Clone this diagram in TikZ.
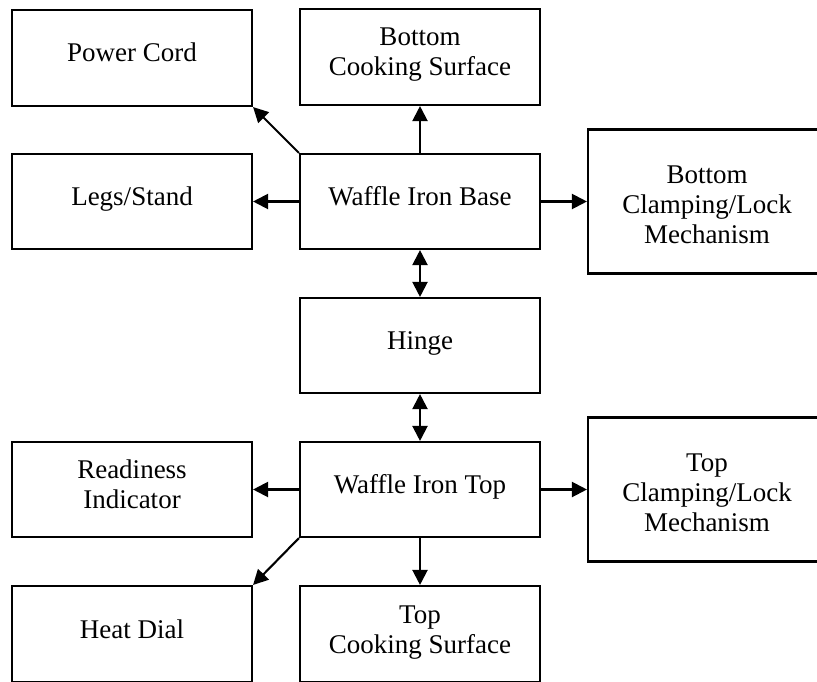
\documentclass[tikz,border=0pt]{standalone}
\usepackage{fontspec}
\setmainfont{Liberation Serif}
\usetikzlibrary{arrows.meta}
% centred block of lines, raised by #1 without affecting the box size
\newcommand{\boxtext}[2]{\raisebox{#1}[0pt][0pt]{\begin{tabular}{@{}c@{}}#2\end{tabular}}}
\begin{document}
\begin{tikzpicture}[x=1pt,y=-1pt,
  blk/.style={draw, line width=2.1pt, inner sep=0pt, minimum width=240pt, minimum height=95pt,
    font=\fontsize{27}{30}\selectfont},
  tall/.style={minimum width=238pt, minimum height=144pt},
  link/.style={line width=2.1pt, -{Triangle[length=15pt,width=15pt]}},
  twoway/.style={line width=2.1pt, {Triangle[length=15pt,width=15pt]}-{Triangle[length=15pt,width=15pt]}}]
\useasboundingbox (0,0) rectangle (817,681);

% components of the base half
\node[blk, minimum height=96pt] (pc) at (132,58) {\boxtext{-4pt}{Power Cord}};
\node[blk, minimum height=96pt] (bcs) at (420,57) {\boxtext{-4pt}{Bottom\\Cooking Surface}};
\node[blk] (legs) at (132,201.5) {\boxtext{-4pt}{Legs/Stand}};
\node[blk] (base) at (420,201.5) {\boxtext{-4pt}{Waffle Iron Base}};
\node[blk, tall] (bclamp) at (707,201.5) {\boxtext{-12pt}{Bottom\\Clamping/Lock\\Mechanism}};

% hinge between the halves
\node[blk] (hinge) at (420,345.5) {\boxtext{-4pt}{Hinge}};

% components of the top half
\node[blk] (ready) at (132,489.5) {\boxtext{-4pt}{Readiness\\Indicator}};
\node[blk] (top) at (420,489.5) {\boxtext{-4pt}{Waffle Iron Top}};
\node[blk, tall] (tclamp) at (707,489.5) {\boxtext{-12pt}{Top\\Clamping/Lock\\Mechanism}};
\node[blk, minimum height=96pt] (heat) at (132,634) {\boxtext{-4.5pt}{Heat Dial}};
\node[blk, minimum height=96pt] (tcs) at (420,634) {\boxtext{-4.5pt}{Top\\Cooking Surface}};

% connections
\draw[link] (base.north) -- (bcs.south);
\draw[link] (base.north west) -- (pc.south east);
\draw[link] (base.west) -- (legs.east);
\draw[link] (base.east) -- (bclamp.west);
\draw[twoway] (base.south) -- (hinge.north);
\draw[twoway] (hinge.south) -- (top.north);
\draw[link] (top.west) -- (ready.east);
\draw[link] (top.east) -- (tclamp.west);
\draw[link] (top.south) -- (tcs.north);
\draw[link] (top.south west) -- (heat.north east);
\end{tikzpicture}
\end{document}
